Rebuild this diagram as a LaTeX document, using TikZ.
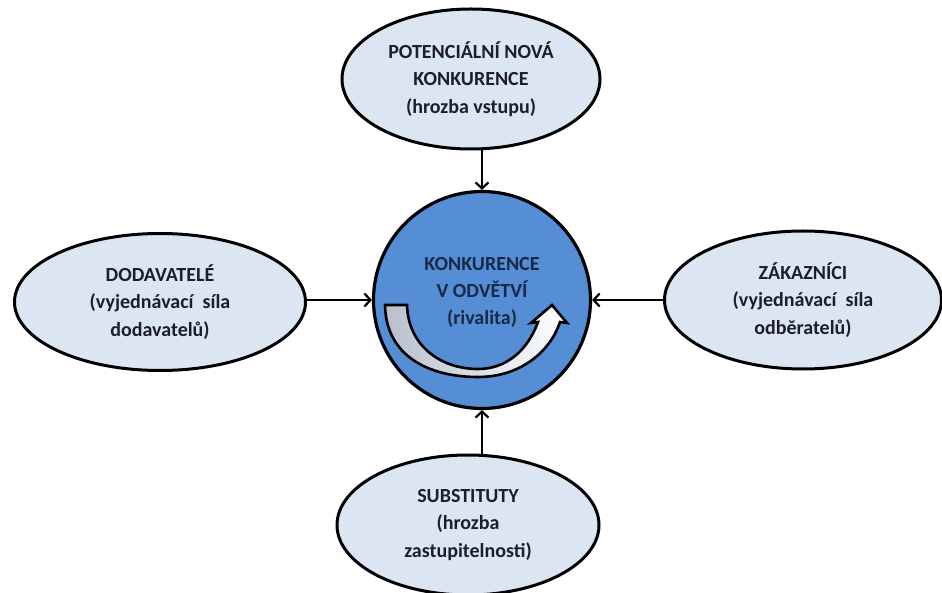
\documentclass[tikz,border=0pt]{standalone}
\usepackage{fontspec}
\setmainfont{Carlito}
\usetikzlibrary{shapes.geometric,arrows.meta}
\definecolor{ellfill}{HTML}{DCE6F2}
\definecolor{circfill}{HTML}{558ED5}
\definecolor{navy}{HTML}{17294A}
\definecolor{dtext}{HTML}{1E1E2A}
\definecolor{bandgray}{HTML}{B8BFCC}
\begin{document}
\begin{tikzpicture}[x=1pt,y=-1pt,
  force/.style={ellipse, draw=black, line width=3pt, fill=ellfill, inner sep=0pt, align=center,
    font=\fontsize{20}{27.5}\selectfont\bfseries, text=dtext},
  core/.style={circle, draw=black, line width=3.2pt, fill=circfill, inner sep=0pt, minimum size=217pt},
  coretext/.style={align=center, font=\fontsize{20}{27}\selectfont\bfseries, text=navy},
  conn/.style={line width=2.2pt, -{Straight Barb[length=6pt,width=13pt]}}]
\useasboundingbox (0,0) rectangle (942,593);
\fill[white] (0,0) rectangle (942,593);
\node[core] (circ) at (482,300) {};
\node[coretext] (ctext) at (482,292) {KONKURENCE\\V ODVĚTVÍ\\(rivalita)};
\node[force, minimum width=258pt, minimum height=140pt] (top) at (471,79) {POTENCIÁLNÍ NOVÁ\\KONKURENCE\\(hrozba vstupu)};
\node[force, minimum width=291pt, minimum height=137pt] (left) at (160,302) {DODAVATELÉ\\(vyjednávací\ \ síla\\dodavatelů)};
\node[force, minimum width=277pt, minimum height=138pt] (right) at (803,300) {ZÁKAZNÍCI\\(vyjednávací\ \ síla\\odběratelů)};
\node[force, minimum width=262pt, minimum height=140pt] (bottom) at (468,525) {SUBSTITUTY\\(hrozba\\zastupitelnosti)};
% connectors
\draw[conn] (circ.north |- top.south) -- (circ.north);
\draw[conn] (bottom.north -| circ.south) -- (circ.south);
\draw[conn] (left.east |- circ.west) -- (circ.west);
\draw[conn] (right.west |- circ.east) -- (circ.east);
% curved block arrow
\draw[line width=2.6pt, line join=miter, left color=bandgray, right color=white]
  (385,305) .. controls (386,357) and (430,377) .. (478,377)
  .. controls (520,377) and (550,352) .. (560,322)
  -- (567,323) -- (552,305) -- (531,323) -- (538,322)
  .. controls (527,352) and (505,369) .. (478,369)
  .. controls (440,369) and (408,345) .. (407,305) -- cycle;
\end{tikzpicture}
\end{document}
